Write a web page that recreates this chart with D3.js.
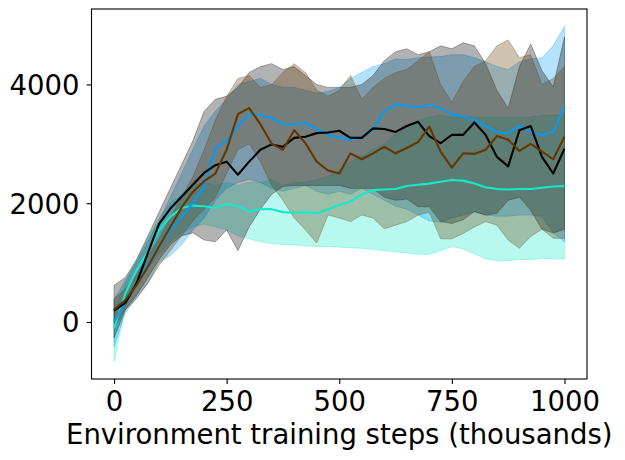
<!DOCTYPE html>
<html>
<head>
<meta charset="utf-8">
<title>Training curves</title>
<style>
    body { margin: 0; background: white; }
    svg { display: block; }
    text { font-family: "DejaVu Sans", sans-serif; font-size: 27.5px; fill: black; }
    .band { stroke-width: 1; fill-opacity: 0.3; stroke-opacity: 0.3; }
    .mean { fill: none; stroke-width: 2.1; stroke-linejoin: round; }
</style>
<script src="https://cdn.jsdelivr.net/npm/d3@7"></script>
</head>
<body>
<div id="chart"></div>
<script>
// environment steps (thousands)
var steps = [0, 25, 50, 75, 100, 125, 150, 175, 200, 225, 250, 275, 300, 325, 350, 375, 400,
    425, 450, 475, 500, 525, 550, 575, 600, 625, 650, 675, 700, 725, 750, 775, 800,
    825, 850, 875, 900, 925, 950, 975, 1000];

var aquaMean = [-110, 480, 870, 1180, 1550, 1770, 1920, 1960, 1950, 1920, 1990, 1950, 1860,
    1900, 1900, 1850, 1840, 1850, 1830, 1900, 1970, 2030, 2150, 2220, 2230, 2240, 2290, 2310,
    2330, 2360, 2390, 2380, 2330, 2270, 2240, 2230, 2240, 2240, 2260, 2280, 2290];
var aquaHigh = [200, 650, 1050, 1400, 1750, 2000, 2150, 2300, 2350, 2300, 2350, 2300, 2350,
    2350, 2400, 2300, 2350, 2350, 2400, 2450, 2550, 2700, 2800, 2900, 3000, 3150, 3300, 3400,
    3450, 3480, 3450, 3450, 3450, 3450, 3450, 3450, 3450, 3450, 3480, 3480, 3500];
var aquaLow = [-670, 250, 600, 900, 1150, 1350, 1500, 1600, 1650, 1600, 1550, 1450, 1400, 1350,
    1320, 1300, 1300, 1280, 1270, 1270, 1260, 1250, 1240, 1220, 1200, 1180, 1160, 1140, 1140,
    1200, 1270, 1230, 1150, 1060, 1030, 1030, 1050, 1050, 1070, 1060, 1060];

var azureMean = [0, 330, 650, 960, 1270, 1550, 1770, 2000, 2270, 2930, 3050, 3300, 3500, 3480,
    3430, 3330, 3330, 3350, 3250, 3150, 3100, 3070, 3100, 3230, 3550, 3660, 3640, 3620, 3650,
    3600, 3500, 3460, 3400, 3300, 3190, 3180, 3300, 3200, 3150, 3200, 3640];
var azureHigh = [370, 700, 1000, 1350, 1700, 2100, 2500, 2900, 3300, 3550, 3750, 4000, 4050,
    4100, 4000, 3950, 3950, 3900, 3850, 3880, 3950, 4100, 4200, 4300, 4350, 4430, 4420, 4450,
    4460, 4470, 4500, 4500, 4450, 4380, 4300, 4250, 4380, 4430, 4450, 4650, 4980];
var azureLow = [-420, 150, 400, 650, 1000, 1120, 1300, 1550, 1750, 2050, 2250, 2350, 2400, 2350,
    2250, 2200, 2250, 2300, 2200, 2150, 2200, 2150, 2250, 2150, 2050, 1950, 1900, 1800, 1700,
    1680, 1750, 1800, 1850, 1800, 1780, 1780, 1800, 1800, 1780, 1500, 1350];

var blackMean = [190, 320, 650, 1160, 1650, 1910, 2110, 2310, 2510, 2640, 2700, 2480, 2700,
    2900, 2990, 2950, 3100, 3120, 3180, 3190, 3220, 3100, 3100, 3260, 3250, 3200, 3300, 3370,
    3130, 3010, 3150, 3150, 3360, 3150, 2780, 2620, 3230, 3300, 2780, 2500, 2920];
var blackHigh = [620, 750, 1050, 1450, 1850, 2250, 2650, 3050, 3550, 3750, 3800, 3950, 4200,
    4300, 4350, 4250, 4300, 4150, 4000, 3950, 3950, 3950, 4000, 4150, 4400, 4550, 4600, 4500,
    4550, 4650, 4600, 4700, 4650, 4350, 3900, 3600, 4300, 4680, 4230, 3960, 4800];
var blackLow = [-270, 200, 450, 750, 1050, 1300, 1450, 1500, 1380, 1350, 1550, 1200, 1600, 1900,
    2150, 2280, 2300, 2300, 2300, 2300, 2300, 2250, 2250, 2250, 2100, 2050, 2070, 1940, 1940,
    1690, 1660, 1720, 1860, 1800, 1830, 2050, 2100, 1880, 1560, 1500, 1560];

var brownMean = [210, 370, 620, 930, 1270, 1600, 1930, 2190, 2370, 2500, 2900, 3500, 3600,
    3330, 3000, 2900, 3230, 3010, 2700, 2550, 2500, 2840, 2740, 2840, 2950, 2840, 2930, 3030,
    3290, 2870, 2600, 2840, 2830, 2900, 3130, 3070, 2880, 3000, 2870, 2740, 3120];
var brownHigh = [400, 550, 800, 1100, 1400, 1750, 2100, 2450, 2900, 3400, 3800, 4100, 4150,
    3950, 4000, 4200, 4350, 4200, 3900, 3800, 3900, 4150, 3750, 3950, 4100, 4200, 4250, 4400,
    4550, 4000, 3700, 4050, 4300, 4400, 4650, 4750, 4450, 4500, 4000, 4100, 4300];
var brownLow = [-100, 200, 400, 650, 950, 1200, 1450, 1700, 1900, 2100, 2500, 2900, 3000, 2700,
    2300, 2050, 1750, 1550, 1330, 1800, 1750, 1690, 1800, 1750, 1570, 1630, 1690, 1800, 1850,
    1400, 1400, 1490, 1600, 1690, 1630, 1380, 1240, 1440, 1560, 1410, 1410];

var xTicks = [0, 250, 500, 750, 1000];
var yTicks = [0, 2000, 4000];
var xTitle = 'Environment training steps (thousands)';

// drawing order: aqua, azure, black, brown
var series = [
    { color: '#13eac9', mean: aquaMean, high: aquaHigh, low: aquaLow },
    { color: '#069af3', mean: azureMean, high: azureHigh, low: azureLow },
    { color: '#000000', mean: blackMean, high: blackHigh, low: blackLow },
    { color: '#653700', mean: brownMean, high: brownHigh, low: brownLow }
];

var width = 625, height = 460;
var plotLeft = 91.5, plotRight = 587, plotTop = 9, plotBottom = 379;

var svg = d3.select('#chart')
        .append('svg')
        .attr('width', width)
        .attr('height', height);

var x = d3.scaleLinear().domain([-50, 1050]).range([plotLeft, plotRight]);
var y = d3.scaleLinear().domain([-960, 5270]).range([plotBottom, plotTop]);

var area = d3.area()
        .x(function(d) { return x(d.step); })
        .y0(function(d) { return y(d.low); })
        .y1(function(d) { return y(d.high); });

var line = d3.line()
        .x(function(d) { return x(d.step); })
        .y(function(d) { return y(d.mean); });

function rows(s) {
    return steps.map(function(step, i) {
        return { step: step, mean: s.mean[i], high: s.high[i], low: s.low[i] };
    });
}

// shaded bands first, then the mean curves on top
svg.selectAll('path.band')
        .data(series)
    .enter().append('path')
        .attr('class', 'band')
        .attr('fill', function(s) { return s.color; })
        .attr('stroke', function(s) { return s.color; })
        .attr('d', function(s) { return area(rows(s)); });

svg.selectAll('path.mean')
        .data(series)
    .enter().append('path')
        .attr('class', 'mean')
        .attr('stroke', function(s) { return s.color; })
        .attr('d', function(s) { return line(rows(s)); });

// frame
svg.append('rect')
        .attr('x', plotLeft)
        .attr('y', plotTop)
        .attr('width', plotRight - plotLeft)
        .attr('height', plotBottom - plotTop)
        .attr('fill', 'none')
        .attr('stroke', 'black')
        .attr('stroke-width', 1.1);

var xAxis = svg.append('g')
        .attr('transform', 'translate(0,' + plotBottom + ')')
        .call(d3.axisBottom(x).tickValues(xTicks).tickSize(4.9).tickFormat(d3.format('d')));

var yAxis = svg.append('g')
        .attr('transform', 'translate(' + plotLeft + ',0)')
        .call(d3.axisLeft(y).tickValues(yTicks).tickSize(4.9).tickFormat(d3.format('d')));

[xAxis, yAxis].forEach(function(g) {
    g.select('.domain').remove();
    g.attr('font-family', null).attr('font-size', null);
    g.selectAll('line').attr('stroke', 'black').attr('stroke-width', 1.1);
});

xAxis.selectAll('text').attr('y', 32).attr('dy', null);
yAxis.selectAll('text').attr('x', -12).attr('dy', 10);

svg.append('text')
        .attr('x', (plotLeft + plotRight) / 2)
        .attr('y', 444)
        .attr('text-anchor', 'middle')
        .text(xTitle);
</script>
</body>
</html>
